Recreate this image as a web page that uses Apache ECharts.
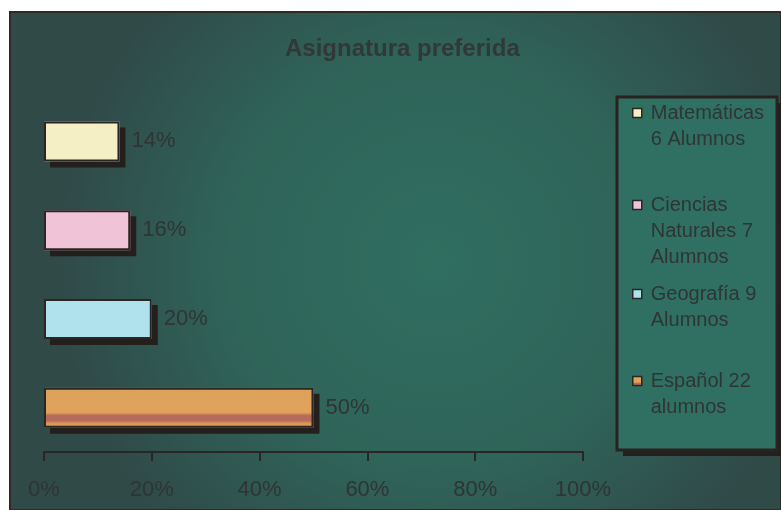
<!DOCTYPE html>
<html><head><meta charset="utf-8">
<script src="https://cdn.jsdelivr.net/npm/echarts@6/dist/echarts.min.js"></script>
<style>html,body{margin:0;padding:0;background:#fff}#c{width:781px;height:510px}</style>
</head><body><div id="c"></div>
<script>
const categories = ['Matemáticas', 'Ciencias Naturales', 'Geografía', 'Español'];
const percents = [14, 16, 20, 50];
const legendNames = ['Matemáticas\n6 Alumnos', 'Ciencias\nNaturales 7\nAlumnos', 'Geografía 9\nAlumnos', 'Español 22\nalumnos'];
const xTicks = [0, 20, 40, 60, 80, 100];
const titleText = 'Asignatura preferida';

const colors = [
  '#f5efc6',
  '#f0c4d6',
  '#b0e2ee',
  {type:'linear',x:0,y:0,x2:0,y2:1,colorStops:[
    {offset:0,color:'#dca25a'},{offset:0.62,color:'#e0a35a'},
    {offset:0.7,color:'#b66a5c'},{offset:0.82,color:'#b66a5c'},
    {offset:0.9,color:'#dc9a55'},{offset:1,color:'#dc9a55'}]}
];
const textColor = '#2f3533';
const FONT = 'Liberation Sans, Arial, sans-serif';
const LH = 26;
const legendIconY = [113, 205, 294, 381];

const chart = echarts.init(document.getElementById('c'), null, {renderer:'canvas'});

const fillSeries = categories.map((c, i) => ({
  name: legendNames[i],
  type: 'bar', stack: 'fill', barWidth: 40, barGap: '-100%',
  data: categories.map((_, j) => j === i ? percents[i] : '-'),
  itemStyle: {
    color: colors[i], borderWidth: 0,
    shadowColor: 'rgba(35,28,26,0.95)', shadowBlur: 0, shadowOffsetX: 6, shadowOffsetY: 6
  },
  label: {show: false},
  emphasis: {disabled: true}
}));
const outlineSeries = categories.map((c, i) => ({
  name: legendNames[i],
  type: 'bar', stack: 'outline', barWidth: 40, barGap: '-100%',
  data: categories.map((_, j) => j === i ? percents[i] : '-'),
  itemStyle: {color: 'rgba(0,0,0,0)', borderColor: '#2a2624', borderWidth: 2},
  label: {
    show: true, position: 'right', distance: 12,
    formatter: p => p.value + '%',
    color: textColor, fontSize: 22, fontFamily: FONT
  },
  emphasis: {disabled: true}
}));

const legends = legendNames.map((n, i) => {
  const lines = n.split('\n').length;
  const blockH = (2 * lines - 1) * LH;
  return {
    orient: 'vertical', left: 632, top: legendIconY[i] - blockH / 2, padding: 0,
    itemWidth: 9, itemHeight: 9, icon: 'rect', selectedMode: false,
    itemStyle: {color: colors[i], borderColor: '#2a2624', borderWidth: 1.5, shadowBlur: 0, shadowOffsetX: 0, shadowOffsetY: 0, shadowColor: 'rgba(0,0,0,0)'},
    formatter: name => '\n'.repeat(lines - 1) + name,
    textStyle: {color: textColor, fontSize: 20, lineHeight: LH, fontFamily: FONT, padding: [0, 0, 0, 4]},
    data: [{name: n}]
  };
});

chart.setOption({
  animation: false,
  backgroundColor: '#ffffff',
  graphic: [
    {type: 'rect', z: -10, shape: {x: 10, y: 12, width: 771, height: 498},
      style: {fill: {type:'radial',x:0.55,y:0.5,r:0.75,colorStops:[
        {offset:0,color:'#2f6e60'},{offset:0.55,color:'#2f6459'},{offset:1,color:'#304a48'}]},
        stroke: '#2e2a28', lineWidth: 2}},
    {type: 'rect', z: -6, shape: {x: 623, y: 103, width: 160, height: 353},
      style: {fill: 'rgba(35,28,26,0.9)'}},
    {type: 'rect', z: -5, shape: {x: 617, y: 97, width: 160, height: 353},
      style: {fill: '#2f7063', stroke: '#2a2220', lineWidth: 3}}
  ],
  title: {
    text: titleText, left: 285, top: 37, padding: 0,
    textStyle: {color: '#323836', fontSize: 24, fontWeight: 'bold', fontFamily: FONT}
  },
  legend: legends,
  grid: {left: 44, right: 198, top: 97, bottom: 58, containLabel: false},
  xAxis: {
    type: 'value', min: xTicks[0], max: xTicks[xTicks.length - 1], interval: xTicks[1] - xTicks[0],
    axisLine: {show: true, lineStyle: {color: '#2a2624', width: 2}},
    axisTick: {show: true, length: 9, lineStyle: {color: '#2a2624', width: 2}},
    splitLine: {show: false},
    axisLabel: {formatter: '{value}%', margin: 27, color: textColor, fontSize: 22, fontFamily: FONT}
  },
  yAxis: {
    type: 'category', data: categories, inverse: true,
    axisLine: {show: false}, axisTick: {show: false}, axisLabel: {show: false}
  },
  series: fillSeries.concat(outlineSeries)
});
</script></body></html>
